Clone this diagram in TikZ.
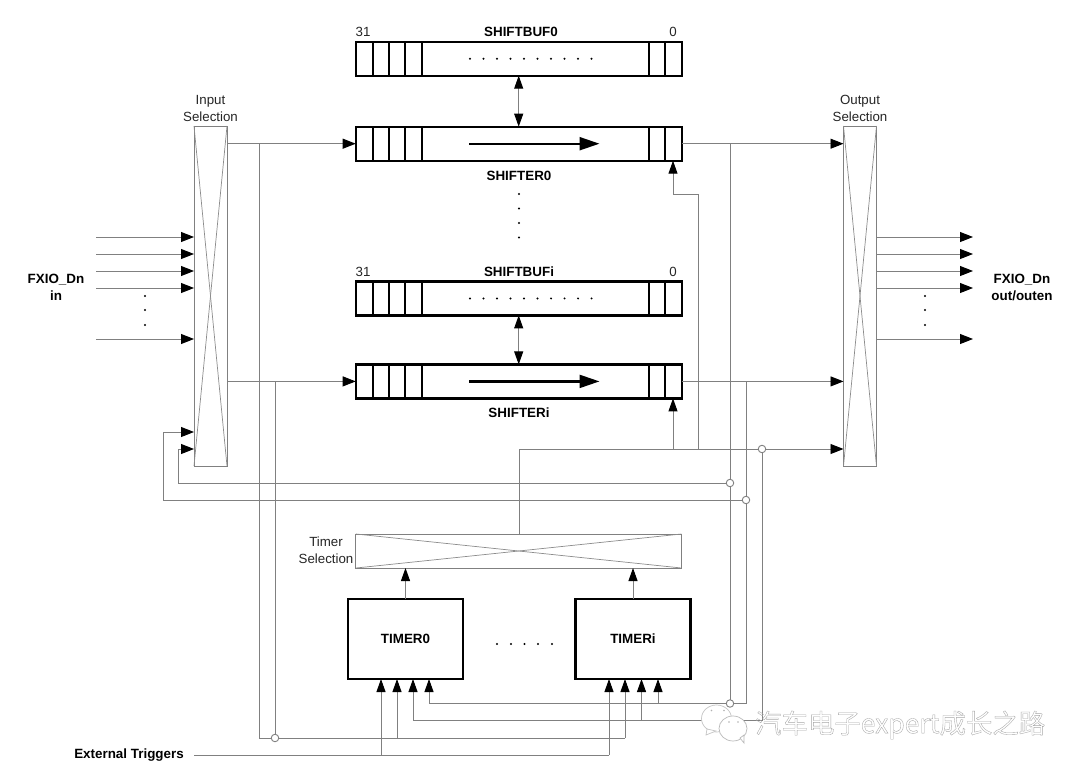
\documentclass[tikz,border=0pt]{standalone}
\usepackage{fontspec}
\setmainfont{Liberation Sans}
\newfontfamily\cjkfont{Noto Sans CJK SC}
\usetikzlibrary{arrows.meta}
\pgfdeclarelayer{top}
\pgfsetlayers{main,top}
\definecolor{wirecol}{gray}{0.5}
\definecolor{xcol}{gray}{0.55}
\tikzset{
  tipa/.tip={Triangle[length=13pt,width=10pt,color=black]},
  tipb/.tip={Triangle[length=13pt,width=9pt,color=black]},
  wire/.style={draw=wirecol,line width=0.95pt},
  inarrow/.style={wire,-{tipa}},
  uparrow/.style={wire,-{tipb}},
  regbox/.style={draw=black,line width=2.2pt,fill=white,minimum width=326pt,minimum height=34pt,inner sep=0pt,outer sep=0pt},
  timerbox/.style={draw=black,line width=2.2pt,fill=white,minimum height=80pt,inner sep=0pt,outer sep=0pt,font=\bfseries\fontsize{13.4}{15}\selectfont},
  selbox/.style={draw=wirecol,line width=0.95pt,fill=white,inner sep=0pt,outer sep=0pt},
  joint/.style={circle,draw=wirecol,line width=0.9pt,fill=white,minimum size=7.5pt,inner sep=0pt,outer sep=0pt},
  plainlabel/.style={font=\fontsize{13.3}{17}\selectfont,text=black!85,align=center,inner sep=0pt},
  boldlabel/.style={font=\bfseries\fontsize{13.4}{17}\selectfont,text=black,align=center,inner sep=0pt},
  cell/.style={draw=black,line width=1.9pt},
  crossline/.style={draw=xcol,line width=0.7pt},
}
\newcommand{\regcells}[1]{%
  \foreach \cx in {372.7,389.3,405.3,421.7,649,665}
    \draw[cell] (\cx,#1-17) -- (\cx,#1+17);}
\newcommand{\tinydot}[1]{\fill[black] (#1) circle (1.2pt);}
\newcommand{\crossbox}[1]{%
  \draw[crossline] (#1.north west) -- (#1.south east);
  \draw[crossline] (#1.north east) -- (#1.south west);}
\begin{document}
\begin{tikzpicture}[x=1pt,y=-1pt]
\useasboundingbox (0,0) rectangle (1080,774);
\fill[white] (0,0) rectangle (1080,774);

% selection boxes
\node[selbox,minimum width=33pt,minimum height=340pt] (insel) at (210.5,296) {};
\node[selbox,minimum width=33pt,minimum height=340pt] (outsel) at (860,296) {};
\node[selbox,minimum width=325.5pt,minimum height=34pt] (timersel) at (518.7,551) {};
\crossbox{insel}\crossbox{outsel}\crossbox{timersel}

% registers
\node[regbox] (buf0) at (518.7,58.7) {};
\node[regbox] (sh0) at (518.7,143.7) {};
\node[regbox] (bufi) at (518.7,298.4) {};
\node[regbox] (shi) at (518.7,381.4) {};
\regcells{58.7}\regcells{143.7}\regcells{298.4}\regcells{381.4}
\foreach \dx in {470,483.5,497,510.5,524,537.5,551,564.5,578,591.5}{
  \fill[black] (\dx,58.7) circle (1.1pt);
  \fill[black] (\dx,298.4) circle (1.1pt);}
\coordinate (sh0a) at (469,143.7);\coordinate (sh0b) at (599.5,143.7);
\coordinate (shia) at (469,381.4);\coordinate (shib) at (599.5,381.4);
\draw[line width=2.2pt,black,-{Triangle[length=20pt,width=13pt]}] (sh0a) -- (sh0b);
\draw[line width=2.2pt,black,-{Triangle[length=20pt,width=13pt]}] (shia) -- (shib);

% timers
\node[timerbox,minimum width=115pt] (t0) at (405.5,639) {TIMER0};
\node[timerbox,minimum width=115pt] (ti) at (633,639) {TIMERi};

% labels
\node[plainlabel] (l31a) at (363,32) {31};
\node[plainlabel] (l0a) at (673,32) {0};
\node[plainlabel] (l31b) at (363,271.5) {31};
\node[plainlabel] (l0b) at (673,271.5) {0};
\node[boldlabel] (lbuf0) at (521,32) {SHIFTBUF0};
\node[boldlabel] (lsh0) at (519,176) {SHIFTER0};
\node[boldlabel] (lbufi) at (519,271.5) {SHIFTBUFi};
\node[boldlabel] (lshi) at (519,413) {SHIFTERi};
\node[plainlabel] (linsel) at (210.5,108.5) {Input\\Selection};
\node[plainlabel] (loutsel) at (860,108.5) {Output\\Selection};
\node[plainlabel] (ltsel) at (326,550.5) {Timer\\Selection};
\node[boldlabel] (lin) at (56,287.5) {FXIO\_Dn\\in};
\node[boldlabel] (lout) at (1022,287.5) {FXIO\_Dn\\out/outen};
\node[boldlabel] (lext) at (129,755) {External Triggers};

% dots
\foreach \dy in {194,208.5,223,237.5}{\tinydot{519,\dy}}
\foreach \dy in {296,310,325}{\tinydot{145,\dy}\tinydot{925,\dy}}
\foreach \dx in {497,511,524.5,538,552}{\tinydot{\dx,644}}

% buffer <-> shifter
\draw[wire,{tipb}-{tipb}] (buf0.south) -- (sh0.north);
\draw[wire,{tipb}-{tipb}] (bufi.south) -- (shi.north);

% pin inputs and outputs
\foreach \n/\py in {a/237,b/254,c/271,d/288,e/339}{
  \coordinate (pin\n) at (96,\py);
  \coordinate (pout\n) at (973,\py);
  \draw[inarrow] (pin\n) -- (pin\n -| insel.west);
  \draw[inarrow] (pout\n -| outsel.east) -- (pout\n);
}

% junction circles
\begin{pgfonlayer}{top}
\node[joint] (j275) at (275,738) {};
\node[joint] (j730a) at (730,483) {};
\node[joint] (j746) at (746,500) {};
\node[joint] (j762) at (762,449) {};
\node[joint] (j730b) at (730,703.5) {};
\end{pgfonlayer}

% input selection to shifters
\draw[inarrow] (insel.east |- sh0.west) -- (sh0.west);
\draw[inarrow] (insel.east |- shi.west) -- (shi.west);
\coordinate (v259a) at (259,143.7);
\coordinate (v259b) at (259,738);
\coordinate (v275a) at (275,381.4);
\draw[wire] (v259a) -- (v259b) -- (j275);
\draw[wire] (v275a) -- (j275);

% shifters to output selection
\draw[inarrow] (sh0.east) -- (sh0.east -| outsel.west);
\draw[inarrow] (shi.east) -- (shi.east -| outsel.west);
\coordinate (v730a) at (730,143.7);
\coordinate (v746a) at (746,381.4);
\draw[wire] (v730a) -- (j730a);
\draw[wire] (j730a) -- (j730b);
\draw[wire] (v746a) -- (j746);
\coordinate (r703) at (746,703.5);
\draw[wire] (j746) -- (r703);

% timer selection bus
\coordinate (busl) at (519,449);
\coordinate (busr) at (outsel.west |- busl);
\draw[wire] (timersel.north -| busl) -- (busl);
\draw[wire] (busl) -- (j762);
\draw[inarrow] (j762) -- (busr);
\coordinate (shipin) at (673,398.4);
\coordinate (shipinb) at (673,449);
\draw[uparrow] (shipinb) -- (shipin);
\coordinate (sh0pin) at (673,160.7);
\coordinate (sh0k1) at (673,194.7);
\coordinate (sh0k2) at (698,194.7);
\coordinate (sh0k3) at (698,449);
\draw[uparrow] (sh0k3) -- (sh0k2) -- (sh0k1) -- (sh0pin);

% feedback to input selection
\coordinate (fb1a) at (194,432);\coordinate (fb1b) at (163,432);\coordinate (fb1c) at (163,500);
\coordinate (fb2a) at (194,449);\coordinate (fb2b) at (178,449);\coordinate (fb2c) at (178,483);
\draw[inarrow] (j746) -- (fb1c) -- (fb1b) -- (fb1a);
\draw[inarrow] (j730a) -- (fb2c) -- (fb2b) -- (fb2a);

% timer outputs
\draw[uparrow] (t0.north) -- (timersel.south -| t0.north);
\draw[uparrow] (ti.north) -- (timersel.south -| ti.north);

% timer trigger inputs
\coordinate (ta) at (381,679);\coordinate (tb) at (397,679);\coordinate (tc) at (413,679);\coordinate (td) at (429,679);
\coordinate (ia) at (609,679);\coordinate (ib) at (625,679);\coordinate (ic) at (641.5,679);\coordinate (id) at (658,679);
\coordinate (ext0) at (194,755);\coordinate (extb) at (381,755);\coordinate (extr) at (609,755);
\draw[wire] (ext0) -- (extr);
\draw[uparrow] (extb) -- (ta);
\draw[uparrow] (extr) -- (ia);
\coordinate (trb) at (397,738);\coordinate (trr) at (625,738);
\draw[wire] (j275) -- (trr);
\draw[uparrow] (trb) -- (tb);
\draw[uparrow] (trr) -- (ib);
\coordinate (tcb) at (413,720.5);\coordinate (icb) at (641.5,720.5);\coordinate (r720) at (762,720.5);
\draw[uparrow] (tcb) -- (tc);
\draw[uparrow] (icb) -- (ic);
\draw[wire] (tcb) -- (r720) -- (j762);
\coordinate (tdb) at (429,703.5);\coordinate (idb) at (658,703.5);
\draw[uparrow] (tdb) -- (td);
\draw[uparrow] (idb) -- (id);
\draw[wire] (tdb) -- (r703);

% watermark
\draw[gray!45,line width=0.7pt,fill=white] (716.5,718.5) ellipse (15pt and 13.5pt);
\draw[gray!45,line width=0.7pt,fill=white] (707,729) -- (706,735) -- (716,731) -- cycle;
\draw[gray!55,line width=0.7pt,fill=white] (733,728.5) ellipse (14pt and 12.5pt);
\draw[gray!55,line width=0.7pt,fill=white] (740,738) -- (744,743) -- (744,735) -- cycle;
\foreach \ex/\ey in {711.5/710.5,724/710.5,729/722,738/722}{\fill[gray!60] (\ex,\ey) circle (0.9pt);}
\node[inner sep=0pt,anchor=west] (wm) at (755,725) {\special{pdf:code 1 Tr 0.35 w}\color{gray!70}\cjkfont\fontsize{26.4}{28}\selectfont 汽车电子expert成长之路\special{pdf:code 0 Tr}};
\end{tikzpicture}
\end{document}
